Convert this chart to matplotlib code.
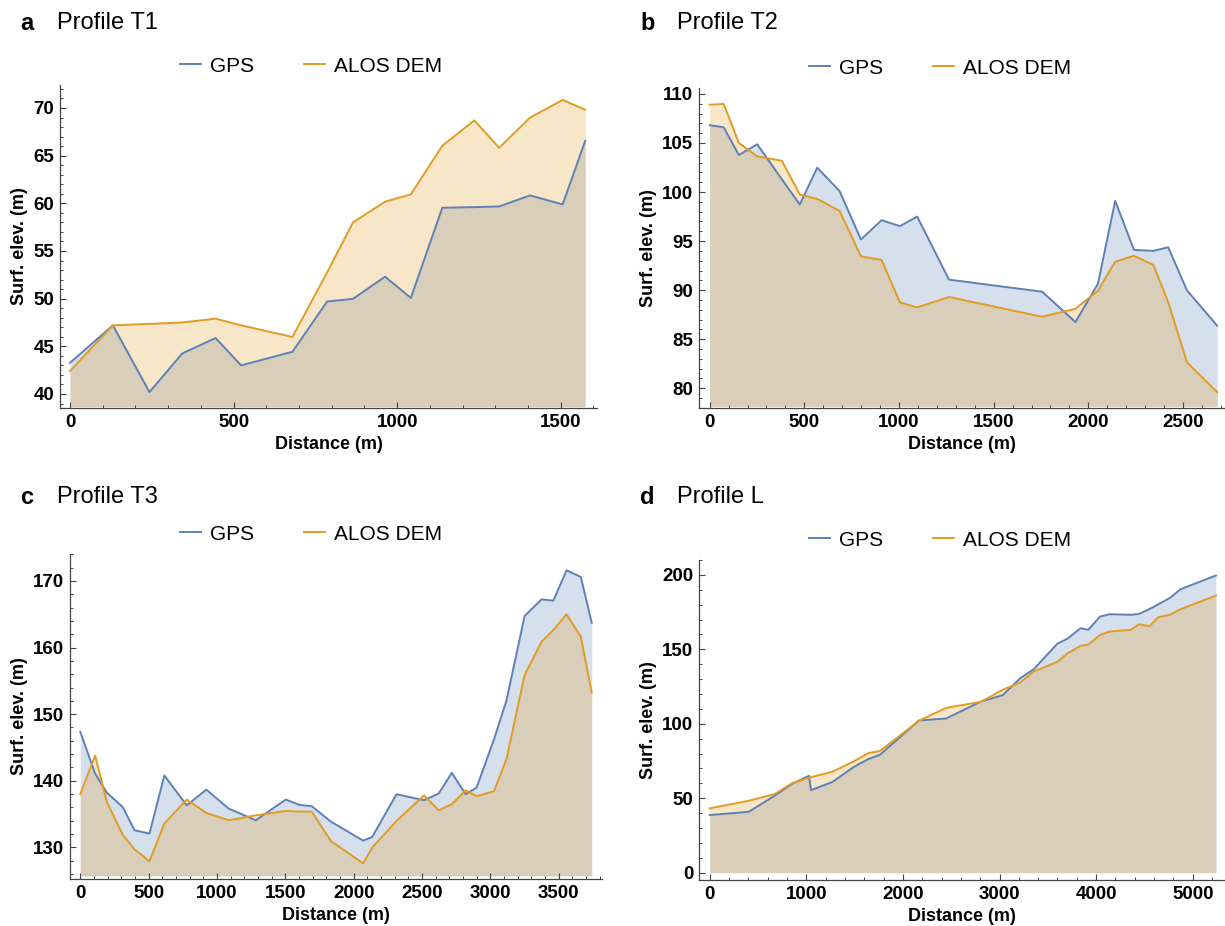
import numpy as np
import matplotlib
matplotlib.use("Agg")
from matplotlib import pyplot as plt
from matplotlib.ticker import MultipleLocator
from matplotlib.lines import Line2D

plt.rcParams['font.family'] = ['Liberation Sans', 'DejaVu Sans']

# profile T1
t1_x = [0, 131, 243, 343, 445, 523, 680, 786, 865, 963, 1042, 1138, 1236, 1312, 1406, 1506, 1575]
t1_gps = [43.27, 47.2, 40.2, 44.25, 45.87, 43.0, 44.43, 49.7, 49.98, 52.3, 50.08, 59.53, 59.6, 59.67, 60.83, 59.88, 66.56]
t1_dem = [42.4, 47.2, 47.35, 47.5, 47.9, 47.2, 45.98, 52.75, 57.99, 60.17, 60.94, 66.03, 68.7, 65.82, 68.98, 70.84, 69.82]

# profile T2
t2_x = [0, 74, 154, 251, 381, 476, 568, 686, 799, 908, 1005, 1096, 1264, 1756, 1932, 2051, 2142, 2241, 2344, 2422, 2521, 2681]
t2_gps = [106.8, 106.6, 103.77, 104.86, 101.3, 98.73, 102.48, 100.1, 95.16, 97.13, 96.52, 97.5, 91.07, 89.84, 86.75, 90.66,
          99.1, 94.1, 94.0, 94.37, 89.98, 86.37]
t2_dem = [108.9, 108.98, 105.0, 103.63, 103.19, 99.75, 99.3, 98.08, 93.45, 93.08, 88.75, 88.24, 89.3, 87.29, 88.1, 89.94,
          92.9, 93.5, 92.56, 88.78, 82.65, 79.6]

# profile T3
t3_x = [0, 109, 195, 310, 397, 506, 615, 779, 922, 1086, 1284, 1503, 1603, 1693, 1833, 2069, 2135, 2313, 2514, 2621,
        2718, 2819, 2899, 3026, 3118, 3250, 3374, 3460, 3557, 3661, 3741]
t3_gps = [147.34, 141.07, 138.2, 136.06, 132.56, 132.06, 140.78, 136.3, 138.67, 135.81, 134.06, 137.17, 136.37, 136.17,
          133.86, 131.0, 131.55, 137.97, 137.07, 138.07, 141.18, 137.97, 138.97, 146.2, 152.1, 164.74, 167.24, 167.04,
          171.6, 170.6, 163.73]
t3_dem = [137.97, 143.78, 136.8, 131.9, 129.7, 127.9, 133.56, 137.17, 135.16, 134.06, 134.8, 135.46, 135.36, 135.36,
          130.95, 127.6, 129.95, 133.96, 137.8, 135.56, 136.47, 138.57, 137.67, 138.42, 143.3, 155.86, 160.88, 162.63,
          164.99, 161.63, 153.21]

# profile L
l_x_gps = [0, 403, 673, 855, 1028, 1048, 1270, 1488, 1641, 1762, 2165, 2448, 2810, 3032, 3214, 3355, 3597, 3706, 3839,
           3919, 4040, 4141, 4363, 4444, 4552, 4766, 4875, 5240]
l_gps = [38.7, 40.9, 51.7, 59.7, 65.1, 55.5, 60.9, 70.9, 76.3, 79.2, 102.2, 103.6, 115.0, 119.2, 130.6, 136.7, 153.7,
         157.3, 164.2, 163.1, 172.0, 173.6, 173.2, 173.8, 177.0, 184.6, 190.4, 199.6]
l_x_dem = [0, 403, 673, 855, 1028, 1270, 1488, 1641, 1762, 2165, 2448, 2810, 3032, 3214, 3355, 3597, 3706, 3839, 3919,
           4040, 4141, 4363, 4444, 4552, 4645, 4766, 4875, 5240]
l_dem = [43.2, 48.3, 52.8, 60.2, 63.8, 67.8, 74.7, 80.3, 81.7, 102.0, 110.7, 114.8, 122.8, 127.7, 135.1, 141.6, 147.4,
         152.3, 153.2, 159.7, 162.0, 163.1, 166.9, 165.5, 171.6, 173.2, 177.0, 186.1]

gps_col = '#5e81b5'
dem_col = '#e19c24'
W, H = 1225, 926

fig = plt.figure(figsize=(W / 100, H / 100), dpi=100)

panels = [
    # letter, title, x gps, gps, x dem, dem, box(l, r, top, bottom px), xlim, ylim, fill base, ticks, title pos, legend pos
    ('a', 'Profile T1', t1_x, t1_gps, t1_x, t1_dem, (60, 597, 85, 408), (-30.6, 1611), (38.53, 72.41), 38.67,
     (500, 100, 5, 1), (20, 23), (311, 66)),
    ('b', 'Profile T2', t2_x, t2_gps, t2_x, t2_dem, (699, 1225, 88, 408), (-56.5, 2722), (77.99, 110.6), 78.16,
     (500, 100, 5, 1), (640, 23), (940, 68)),
    ('c', 'Profile T3', t3_x, t3_gps, t3_x, t3_dem, (70, 602, 554, 879), (-75, 3816), (125.24, 174.05), 125.7,
     (500, 100, 10, 2), (20, 497), (311, 534)),
    ('d', 'Profile L', l_x_gps, l_gps, l_x_dem, l_dem, (699, 1225, 560, 880), (-111, 5334), (-4.9, 210), 0,
     (1000, 200, 50, 10), (640, 497), (940, 540)),
]

for (letter, title, xg, yg, xd, yd, box, xl, yl, base, tk, tpos, lpos) in panels:
    l, r, t, b = box
    ax = fig.add_axes([l / W, 1 - b / H, (r - l) / W, (b - t) / H])
    ax.fill_between(xg, yg, base, color=gps_col, alpha=0.25, lw=0)
    ax.fill_between(xd, yd, base, color=dem_col, alpha=0.25, lw=0)
    ax.plot(xg, yg, color=gps_col, lw=1.4)
    ax.plot(xd, yd, color=dem_col, lw=1.4)
    ax.set_xlim(*xl)
    ax.set_ylim(*yl)
    for s in ['top', 'right']:
        ax.spines[s].set_visible(False)
    for s in ['left', 'bottom']:
        ax.spines[s].set_color('#444444')
        ax.spines[s].set_linewidth(0.9)
    ax.xaxis.set_major_locator(MultipleLocator(tk[0]))
    ax.xaxis.set_minor_locator(MultipleLocator(tk[1]))
    ax.yaxis.set_major_locator(MultipleLocator(tk[2]))
    ax.yaxis.set_minor_locator(MultipleLocator(tk[3]))
    ax.tick_params(which='major', direction='in', length=4, width=0.8, color='#444444', labelsize=13.5, pad=4)
    ax.tick_params(which='minor', direction='in', length=2.5, width=0.7, color='#444444')
    for lab in ax.get_xticklabels() + ax.get_yticklabels():
        lab.set_fontweight('bold')
    ax.set_xlabel('Distance (m)', fontsize=13, fontweight='bold', labelpad=4)
    ax.set_ylabel('Surf. elev. (m)', fontsize=13, fontweight='bold', labelpad=4)

    fig.text(tpos[0] / W, 1 - tpos[1] / H, letter, fontsize=17, fontweight='bold', va='center', ha='left')
    fig.text((tpos[0] + 37) / W, 1 - tpos[1] / H, title, fontsize=17, va='center', ha='left')

    handles = [Line2D([], [], color=gps_col, lw=1.4), Line2D([], [], color=dem_col, lw=1.4)]
    ax.legend(handles, ['GPS', 'ALOS DEM'], ncol=2, frameon=False, fontsize=15,
              loc='center', bbox_to_anchor=(lpos[0] / W, 1 - lpos[1] / H), bbox_transform=fig.transFigure,
              handlelength=1.0, handletextpad=0.45, columnspacing=2.4, borderpad=0, borderaxespad=0)

fig.savefig('out.png', dpi=100)
